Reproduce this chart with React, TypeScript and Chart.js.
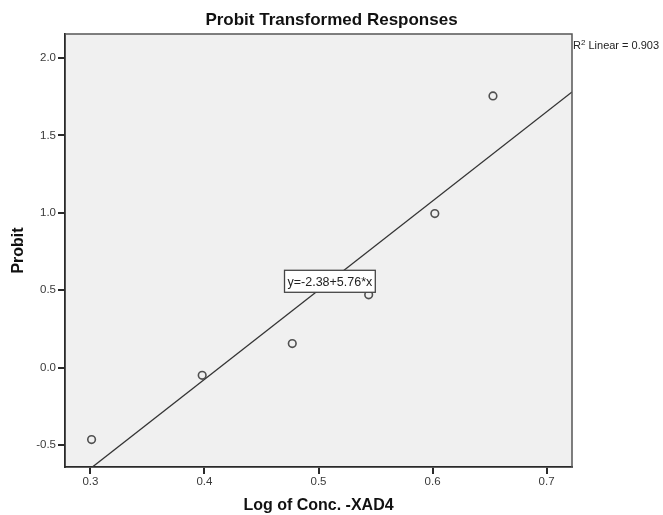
import React, { useEffect, useRef } from "react";
import { Chart, registerables } from "chart.js";

Chart.register(...registerables);

// ---- data ----
const logConc = [0.301, 0.398, 0.477, 0.544, 0.602, 0.653];
const probit = [-0.465, -0.05, 0.155, 0.47, 0.995, 1.755];
const xTicks = [0.3, 0.4, 0.5, 0.6, 0.7];
const yTicks = [-0.5, 0.0, 0.5, 1.0, 1.5, 2.0];
const fitIntercept = -2.38;
const fitSlope = 5.76;
const rSquared = 0.903;
const xRange = [0.2777, 0.7223];
const yRange = [-0.642, 2.155];
const labelAtX = 0.51;

const TITLE = "Probit Transformed Responses";
const X_TITLE = "Log of Conc. -XAD4";
const Y_TITLE = "Probit";

const FONT = "'Liberation Sans', Arial, sans-serif";

const fitLine = xRange.map((x) => ({ x, y: fitIntercept + fitSlope * x }));

const decorPlugin = {
  id: "decor",
  beforeDraw(chart: any) {
    const { ctx, chartArea: a } = chart;
    ctx.save();
    ctx.fillStyle = "#ffffff";
    ctx.fillRect(0, 0, chart.width, chart.height);
    ctx.fillStyle = "#f0f0f0";
    ctx.fillRect(a.left, a.top, a.right - a.left, a.bottom - a.top);
    ctx.restore();
  },
  afterDatasetsDraw(chart: any) {
    const { ctx, chartArea: a, scales } = chart;
    ctx.save();
    // top and right frame
    ctx.strokeStyle = "#555555";
    ctx.lineWidth = 1.5;
    ctx.beginPath();
    ctx.moveTo(a.left, a.top);
    ctx.lineTo(a.right, a.top);
    ctx.lineTo(a.right, a.bottom);
    ctx.stroke();

    // R^2 annotation
    ctx.fillStyle = "#222222";
    ctx.textBaseline = "alphabetic";
    ctx.textAlign = "left";
    let x = a.right + 1;
    const base = a.top + 15;
    ctx.font = `11px ${FONT}`;
    ctx.fillText("R", x, base);
    x += ctx.measureText("R").width;
    ctx.font = `8px ${FONT}`;
    ctx.fillText("2", x, base - 4);
    x += ctx.measureText("2").width;
    ctx.font = `11px ${FONT}`;
    ctx.fillText(` Linear = ${rSquared.toFixed(3)}`, x, base);

    // equation label box
    const eq = `y=${fitIntercept}+${fitSlope}*x`;
    const cx = scales.x.getPixelForValue(labelAtX);
    const cy = scales.y.getPixelForValue(fitIntercept + fitSlope * labelAtX);
    ctx.font = `12.5px ${FONT}`;
    const w = ctx.measureText(eq).width + 6;
    const h = 22;
    ctx.fillStyle = "#ffffff";
    ctx.fillRect(cx - w / 2, cy - h / 2, w, h);
    ctx.strokeStyle = "#444444";
    ctx.lineWidth = 1.3;
    ctx.strokeRect(cx - w / 2, cy - h / 2, w, h);
    ctx.fillStyle = "#222222";
    ctx.textAlign = "center";
    ctx.textBaseline = "middle";
    ctx.fillText(eq, cx, cy + 1);
    ctx.restore();
  },
};

export default function App() {
  const ref = useRef<HTMLCanvasElement | null>(null);

  useEffect(() => {
    document.body.style.margin = "0";
    const canvas = ref.current;
    if (!canvas) return;
    const chart = new Chart(canvas, {
      type: "scatter",
      data: {
        datasets: [
          {
            type: "line",
            label: "Linear fit",
            data: fitLine,
            borderColor: "#333333",
            borderWidth: 1.3,
            pointRadius: 0,
            fill: false,
            order: 2,
          } as any,
          {
            label: "Probit",
            data: logConc.map((x, i) => ({ x, y: probit[i] })),
            pointRadius: 3.8,
            pointBorderWidth: 1.6,
            pointBorderColor: "#505050",
            pointBackgroundColor: "rgba(0,0,0,0)",
            borderColor: "#505050",
            backgroundColor: "rgba(0,0,0,0)",
            order: 1,
          },
        ],
      },
      options: {
        animation: false,
        responsive: false,
        devicePixelRatio: 1,
        layout: { padding: 0 },
        plugins: {
          legend: { display: false },
          tooltip: { enabled: false },
          title: {
            display: true,
            text: TITLE,
            color: "#111111",
            font: { family: FONT, size: 17, weight: "bold", lineHeight: 1.2 },
            padding: { top: 10, bottom: 3.6 },
          },
        },
        scales: {
          x: {
            type: "linear",
            position: "bottom",
            min: xRange[0],
            max: xRange[1],
            afterBuildTicks: (s: any) => {
              s.ticks = xTicks.map((v) => ({ value: v }));
            },
            afterFit: (s: any) => {
              s.height = 48;
            },
            ticks: {
              color: "#3a3a3a",
              font: { family: FONT, size: 11.5 },
              padding: 1,
              maxRotation: 0,
              callback: (v: any) => Number(v).toFixed(1),
            },
            grid: {
              display: true,
              drawOnChartArea: false,
              drawTicks: true,
              tickLength: 7,
              color: "#2a2a2a",
              lineWidth: 2,
            },
            border: { display: true, color: "#2a2a2a", width: 1.8 },
            title: {
              display: true,
              text: X_TITLE,
              color: "#111111",
              font: { family: FONT, size: 16, weight: "bold", lineHeight: 1.2 },
              padding: { top: 0, bottom: 0 },
            },
          },
          y: {
            type: "linear",
            position: "left",
            min: yRange[0],
            max: yRange[1],
            afterBuildTicks: (s: any) => {
              s.ticks = yTicks.map((v) => ({ value: v }));
            },
            afterFit: (s: any) => {
              s.width = 65;
            },
            ticks: {
              color: "#3a3a3a",
              font: { family: FONT, size: 11.5 },
              padding: 2,
              callback: (v: any) => Number(v).toFixed(1),
            },
            grid: {
              display: true,
              drawOnChartArea: false,
              drawTicks: true,
              tickLength: 7,
              color: "#2a2a2a",
              lineWidth: 2,
            },
            border: { display: true, color: "#2a2a2a", width: 1.8 },
            title: {
              display: true,
              text: Y_TITLE,
              color: "#111111",
              font: { family: FONT, size: 16, weight: "bold", lineHeight: 1.2 },
              padding: { top: 9, bottom: 0 },
            },
          },
          yRightSpace: {
            type: "linear",
            position: "right",
            display: true,
            afterFit: (s: any) => {
              s.width = 91;
            },
            ticks: { display: false },
            grid: { display: false, drawTicks: false },
            border: { display: false },
            title: { display: false },
          },
        },
      } as any,
      plugins: [decorPlugin],
    });
    return () => chart.destroy();
  }, []);

  return (
    <div style={{ width: 663, height: 515 }}>
      <canvas ref={ref} width={663} height={515} style={{ display: "block" }} />
    </div>
  );
}
